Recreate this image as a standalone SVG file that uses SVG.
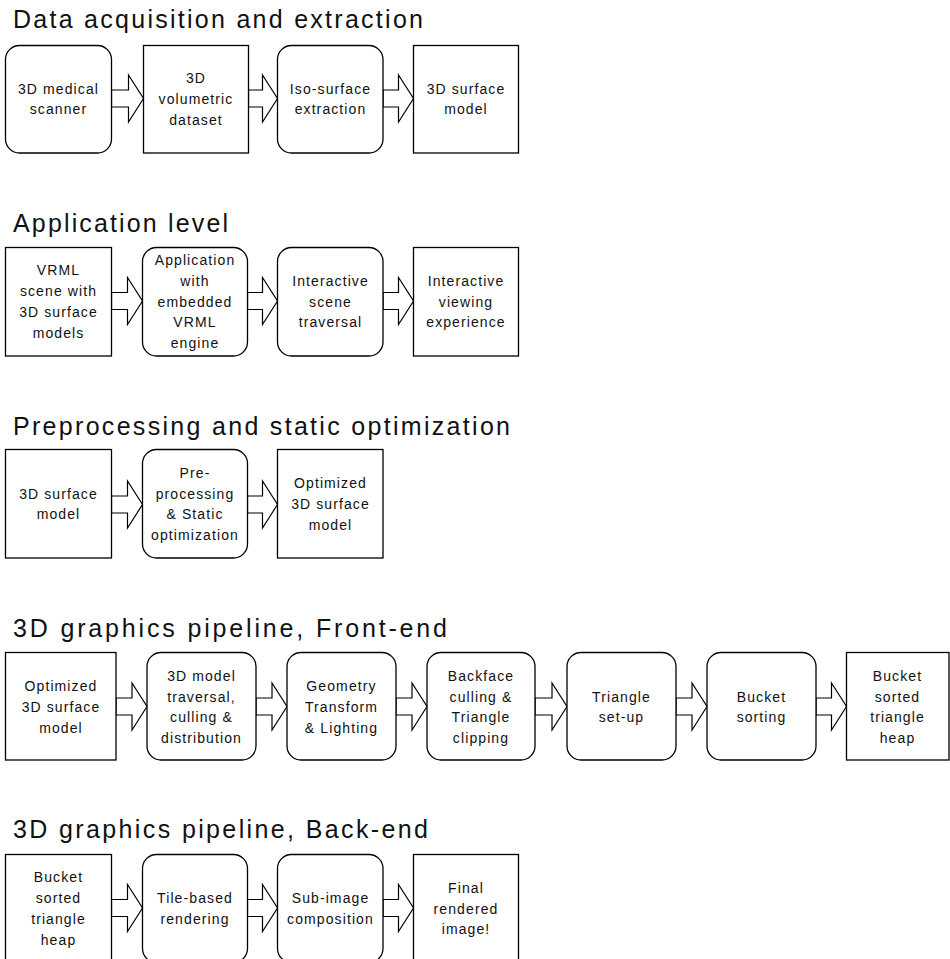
<svg xmlns="http://www.w3.org/2000/svg" width="950" height="959" viewBox="0 0 950 959">
  <style>
    .title { font-family: "Liberation Sans", Arial, sans-serif; font-size: 25px; fill: #111; }
    .lbl { font-family: "Liberation Sans", Arial, sans-serif; font-size: 14px; letter-spacing: 1.1px; fill: #111; text-anchor: middle; }
    .box { fill: #fff; stroke: #000; stroke-width: 1.3; }
    .arrow { fill: #fff; stroke: #000; stroke-width: 1.2; stroke-linejoin: miter; }
  </style>
  <rect width="950" height="959" fill="#fff"/>

  <!-- Section titles -->
  <g id="titles">
    <text class="title" x="13" y="28" textLength="410" lengthAdjust="spacing">Data acquisition and extraction</text>
    <text class="title" x="13" y="232" textLength="215" lengthAdjust="spacing">Application level</text>
    <text class="title" x="13" y="435" textLength="497" lengthAdjust="spacing">Preprocessing and static optimization</text>
    <text class="title" x="13" y="637" textLength="434" lengthAdjust="spacing">3D graphics pipeline, Front-end</text>
    <text class="title" x="13" y="838" textLength="415" lengthAdjust="spacing">3D graphics pipeline, Back-end</text>
  </g>

  <!-- Block arrows between stages -->
  <g id="connectors">
    <!-- row 1, cy=98.5 -->
    <polygon class="arrow" points="111.5,90 128.5,90 128.5,75 143.5,98.5 128.5,122 128.5,107 111.5,107"/>
    <polygon class="arrow" points="248.5,90 262.5,90 262.5,75 277.5,98.5 262.5,122 262.5,107 248.5,107"/>
    <polygon class="arrow" points="383,90 398.5,90 398.5,75 413.5,98.5 398.5,122 398.5,107 383,107"/>
    <!-- row 2, cy=301 -->
    <polygon class="arrow" points="111.5,292.5 127.5,292.5 127.5,277.5 142.5,301 127.5,324.5 127.5,309.5 111.5,309.5"/>
    <polygon class="arrow" points="247.5,292.5 262.5,292.5 262.5,277.5 277.5,301 262.5,324.5 262.5,309.5 247.5,309.5"/>
    <polygon class="arrow" points="383,292.5 398.5,292.5 398.5,277.5 413.5,301 398.5,324.5 398.5,309.5 383,309.5"/>
    <!-- row 3, cy=504.5 -->
    <polygon class="arrow" points="111.5,496 127.5,496 127.5,481 142.5,504.5 127.5,528 127.5,513 111.5,513"/>
    <polygon class="arrow" points="247.5,496 262.5,496 262.5,481 277.5,504.5 262.5,528 262.5,513 247.5,513"/>
    <!-- row 4, cy=706.5 -->
    <polygon class="arrow" points="116,698 132,698 132,683 147,706.5 132,730 132,715 116,715"/>
    <polygon class="arrow" points="256,698 272,698 272,683 287,706.5 272,730 272,715 256,715"/>
    <polygon class="arrow" points="396,698 412,698 412,683 427,706.5 412,730 412,715 396,715"/>
    <polygon class="arrow" points="535,698 552,698 552,683 567,706.5 552,730 552,715 535,715"/>
    <polygon class="arrow" points="676,698 692,698 692,683 707,706.5 692,730 692,715 676,715"/>
    <polygon class="arrow" points="816,698 831.5,698 831.5,683 846.5,706.5 831.5,730 831.5,715 816,715"/>
    <!-- row 5, cy=908 -->
    <polygon class="arrow" points="111.5,899.5 127.5,899.5 127.5,884.5 142.5,908 127.5,931.5 127.5,916.5 111.5,916.5"/>
    <polygon class="arrow" points="247.5,899.5 262.5,899.5 262.5,884.5 277.5,908 262.5,931.5 262.5,916.5 247.5,916.5"/>
    <polygon class="arrow" points="383,899.5 398.5,899.5 398.5,884.5 413.5,908 398.5,931.5 398.5,916.5 383,916.5"/>
  </g>

  <!-- Row 1: Data acquisition and extraction -->
  <g id="scanner">
    <rect class="box" x="5.5" y="45.5" width="106" height="107.5" rx="14"/>
    <text class="lbl"><tspan x="58.5" y="93.6">3D medical</tspan><tspan x="58.5" y="114.4">scanner</tspan></text>
  </g>
  <g id="volumetric-dataset">
    <rect class="box" x="143.5" y="45.5" width="105" height="107.5"/>
    <text class="lbl"><tspan x="196" y="83.2">3D</tspan><tspan x="196" y="104">volumetric</tspan><tspan x="196" y="124.8">dataset</tspan></text>
  </g>
  <g id="iso-surface">
    <rect class="box" x="277.5" y="45.5" width="105.5" height="107.5" rx="14"/>
    <text class="lbl"><tspan x="330.5" y="93.6">Iso-surface</tspan><tspan x="330.5" y="114.4">extraction</tspan></text>
  </g>
  <g id="surface-model-1">
    <rect class="box" x="413.5" y="45.5" width="105" height="107.5"/>
    <text class="lbl"><tspan x="466" y="93.6">3D surface</tspan><tspan x="466" y="114.4">model</tspan></text>
  </g>

  <!-- Row 2: Application level -->
  <g id="vrml-scene">
    <rect class="box" x="5.5" y="247.5" width="106" height="108.5"/>
    <text class="lbl"><tspan x="58.5" y="275.3">VRML</tspan><tspan x="58.5" y="296.1">scene with</tspan><tspan x="58.5" y="316.9">3D surface</tspan><tspan x="58.5" y="337.7">models</tspan></text>
  </g>
  <g id="vrml-application">
    <rect class="box" x="142.5" y="247.5" width="105" height="108.5" rx="14"/>
    <text class="lbl"><tspan x="195" y="264.9">Application</tspan><tspan x="195" y="285.7">with</tspan><tspan x="195" y="306.5">embedded</tspan><tspan x="195" y="327.3">VRML</tspan><tspan x="195" y="348.1">engine</tspan></text>
  </g>
  <g id="scene-traversal">
    <rect class="box" x="277.5" y="247.5" width="105.5" height="108.5" rx="14"/>
    <text class="lbl"><tspan x="330.5" y="285.7">Interactive</tspan><tspan x="330.5" y="306.5">scene</tspan><tspan x="330.5" y="327.3">traversal</tspan></text>
  </g>
  <g id="viewing-experience">
    <rect class="box" x="413.5" y="247.5" width="105" height="108.5"/>
    <text class="lbl"><tspan x="466" y="285.7">Interactive</tspan><tspan x="466" y="306.5">viewing</tspan><tspan x="466" y="327.3">experience</tspan></text>
  </g>

  <!-- Row 3: Preprocessing and static optimization -->
  <g id="surface-model-2">
    <rect class="box" x="5.5" y="449.5" width="106" height="108.5"/>
    <text class="lbl"><tspan x="58.5" y="498.6">3D surface</tspan><tspan x="58.5" y="519.4">model</tspan></text>
  </g>
  <g id="preprocessing">
    <rect class="box" x="142.5" y="449.5" width="105" height="108.5" rx="14"/>
    <text class="lbl"><tspan x="195" y="477.8">Pre-</tspan><tspan x="195" y="498.6">processing</tspan><tspan x="195" y="519.4">&amp; Static</tspan><tspan x="195" y="540.2">optimization</tspan></text>
  </g>
  <g id="optimized-model-1">
    <rect class="box" x="277.5" y="449.5" width="105.5" height="108.5"/>
    <text class="lbl"><tspan x="330.5" y="488.2">Optimized</tspan><tspan x="330.5" y="509">3D surface</tspan><tspan x="330.5" y="529.8">model</tspan></text>
  </g>

  <!-- Row 4: 3D graphics pipeline, front-end -->
  <g id="optimized-model-2">
    <rect class="box" x="5.5" y="652.5" width="110.5" height="107.5"/>
    <text class="lbl"><tspan x="61" y="691.2">Optimized</tspan><tspan x="61" y="712">3D surface</tspan><tspan x="61" y="732.8">model</tspan></text>
  </g>
  <g id="model-traversal">
    <rect class="box" x="147" y="652.5" width="109" height="107.5" rx="14"/>
    <text class="lbl"><tspan x="201.5" y="680.8">3D model</tspan><tspan x="201.5" y="701.6">traversal,</tspan><tspan x="201.5" y="722.4">culling &amp;</tspan><tspan x="201.5" y="743.2">distribution</tspan></text>
  </g>
  <g id="geometry">
    <rect class="box" x="287" y="652.5" width="109" height="107.5" rx="14"/>
    <text class="lbl"><tspan x="341.5" y="691.2">Geometry</tspan><tspan x="341.5" y="712">Transform</tspan><tspan x="341.5" y="732.8">&amp; Lighting</tspan></text>
  </g>
  <g id="backface-culling">
    <rect class="box" x="427" y="652.5" width="108" height="107.5" rx="14"/>
    <text class="lbl"><tspan x="481" y="680.8">Backface</tspan><tspan x="481" y="701.6">culling &amp;</tspan><tspan x="481" y="722.4">Triangle</tspan><tspan x="481" y="743.2">clipping</tspan></text>
  </g>
  <g id="triangle-setup">
    <rect class="box" x="567" y="652.5" width="109" height="107.5" rx="14"/>
    <text class="lbl"><tspan x="621.5" y="701.6">Triangle</tspan><tspan x="621.5" y="722.4">set-up</tspan></text>
  </g>
  <g id="bucket-sorting">
    <rect class="box" x="707" y="652.5" width="109" height="107.5" rx="14"/>
    <text class="lbl"><tspan x="761.5" y="701.6">Bucket</tspan><tspan x="761.5" y="722.4">sorting</tspan></text>
  </g>
  <g id="triangle-heap-1">
    <rect class="box" x="846.5" y="652.5" width="102.5" height="107.5"/>
    <text class="lbl"><tspan x="897.5" y="680.8">Bucket</tspan><tspan x="897.5" y="701.6">sorted</tspan><tspan x="897.5" y="722.4">triangle</tspan><tspan x="897.5" y="743.2">heap</tspan></text>
  </g>

  <!-- Row 5: 3D graphics pipeline, back-end -->
  <g id="triangle-heap-2">
    <rect class="box" x="5.5" y="854.5" width="106" height="108"/>
    <text class="lbl"><tspan x="58.5" y="882.3">Bucket</tspan><tspan x="58.5" y="903.1">sorted</tspan><tspan x="58.5" y="923.9">triangle</tspan><tspan x="58.5" y="944.7">heap</tspan></text>
  </g>
  <g id="tile-rendering">
    <rect class="box" x="142.5" y="854.5" width="105" height="108" rx="14"/>
    <text class="lbl"><tspan x="195" y="903.1">Tile-based</tspan><tspan x="195" y="923.9">rendering</tspan></text>
  </g>
  <g id="sub-image">
    <rect class="box" x="277.5" y="854.5" width="105.5" height="108" rx="14"/>
    <text class="lbl"><tspan x="330.5" y="903.1">Sub-image</tspan><tspan x="330.5" y="923.9">composition</tspan></text>
  </g>
  <g id="final-image">
    <rect class="box" x="413.5" y="854.5" width="105" height="108"/>
    <text class="lbl"><tspan x="466" y="892.7">Final</tspan><tspan x="466" y="913.5">rendered</tspan><tspan x="466" y="934.3">image!</tspan></text>
  </g>
</svg>
